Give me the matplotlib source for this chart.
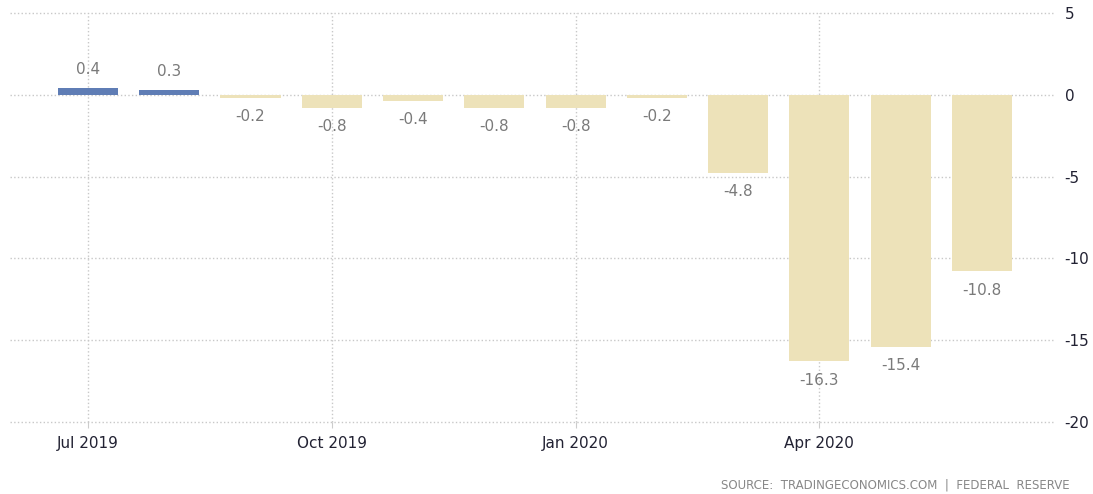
import matplotlib.pyplot as plt

months = ['Jul 2019', 'Aug 2019', 'Sep 2019', 'Oct 2019', 'Nov 2019', 'Dec 2019',
          'Jan 2020', 'Feb 2020', 'Mar 2020', 'Apr 2020', 'May 2020', 'Jun 2020']
values = [0.4, 0.3, -0.2, -0.8, -0.4, -0.8, -0.8, -0.2, -4.8, -16.3, -15.4, -10.8]
tick_idx = [0, 3, 6, 9]
y_ticks = [5, 0, -5, -10, -15, -20]

blue = '#5f7db5'
beige = '#ede2b9'

fig = plt.figure(figsize=(10.93, 4.94), dpi=100)
ax = fig.add_axes([10 / 1093, 72 / 494, 1045 / 1093, 409 / 494])

x = list(range(len(values)))
colors = [blue if v >= 0 else beige for v in values]
ax.bar(x, values, width=0.74, color=colors, zorder=2)

for i, v in enumerate(values):
    if v >= 0:
        ax.annotate(f'{v:.1f}', (i, v), xytext=(0, 8), textcoords='offset points',
                    ha='center', va='bottom', fontsize=11, color='#7a7a7a')
    else:
        ax.annotate(f'{v:.1f}', (i, v), xytext=(0, -8), textcoords='offset points',
                    ha='center', va='top', fontsize=11, color='#7a7a7a')

ax.set_xlim(-0.96, 11.9)
ax.set_ylim(-20, 5)
ax.set_xticks(tick_idx)
ax.set_xticklabels([months[i] for i in tick_idx])
ax.set_yticks(y_ticks)
ax.set_yticklabels([str(t) for t in y_ticks])
ax.yaxis.tick_right()
ax.tick_params(axis='y', length=0, pad=7, labelsize=11, labelcolor='#222233')
ax.tick_params(axis='x', length=4, color='#cccccc', pad=6, labelsize=11, labelcolor='#222233')
ax.grid(True, linestyle=':', color='#c8c8c8', linewidth=1, zorder=0)
for line in ax.get_ygridlines() + ax.get_xgridlines():
    line.set_clip_on(False)
for s in ax.spines.values():
    s.set_visible(False)

fig.text(1070 / 1093, 9 / 494, 'SOURCE:  TRADINGECONOMICS.COM  |  FEDERAL  RESERVE',
         ha='right', va='center', fontsize=8.5, color='#888888')

fig.savefig('out.png', dpi=100)
